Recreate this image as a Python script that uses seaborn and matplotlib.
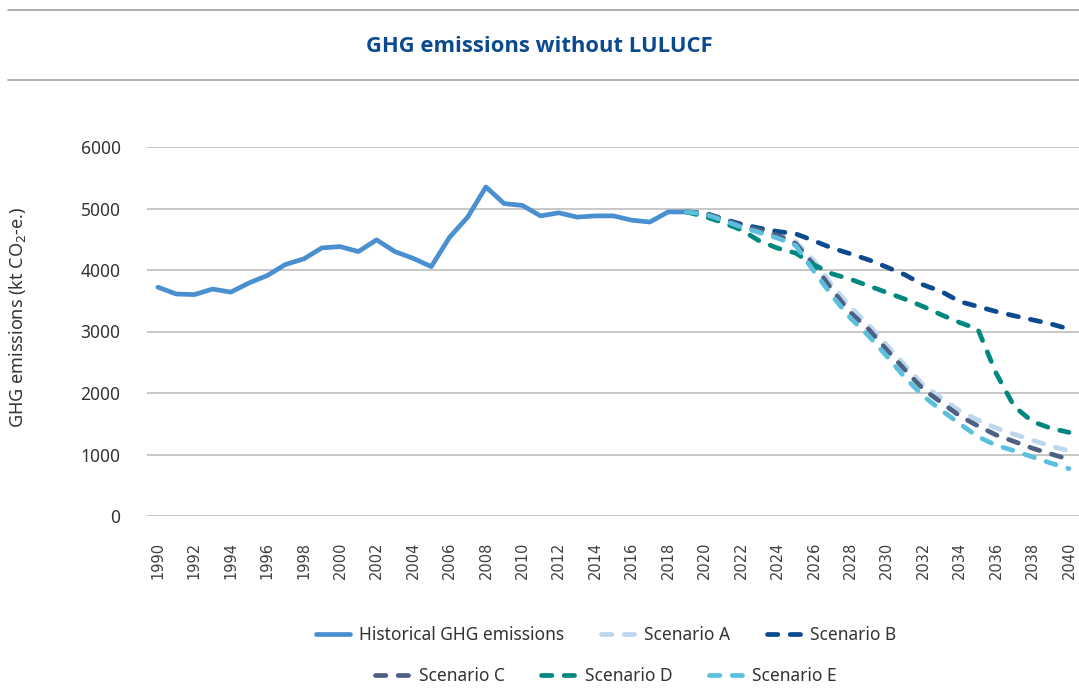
import pandas as pd
import seaborn as sns
import matplotlib.pyplot as plt
from matplotlib.lines import Line2D

# Data (kt CO2-e)
hist_years = list(range(1990, 2020))
hist_values = [3720, 3610, 3600, 3690, 3640, 3790, 3910, 4090, 4180, 4360,
               4380, 4300, 4490, 4300, 4190, 4055, 4530, 4860, 5350, 5080,
               5050, 4880, 4930, 4860, 4880, 4880, 4810, 4780, 4944, 4944]

scen_years = list(range(2019, 2041))
scenario_a = [4944, 4930, 4840, 4740, 4670, 4590, 4460, 4150, 3750, 3400, 3110,
              2780, 2450, 2130, 1920, 1710, 1560, 1430, 1330, 1230, 1140, 1060]
scenario_b = [4944, 4926, 4828, 4747, 4681, 4627, 4589, 4475, 4356, 4264, 4166,
              4047, 3922, 3759, 3650, 3488, 3406, 3325, 3255, 3190, 3124, 3040]
scenario_c = [4944, 4926, 4830, 4720, 4650, 4565, 4430, 4085, 3678, 3309, 3038,
              2702, 2376, 2061, 1845, 1628, 1465, 1318, 1210, 1101, 1010, 920]
scenario_d = [4944, 4870, 4773, 4654, 4475, 4356, 4275, 4085, 3938, 3851, 3743,
              3634, 3526, 3406, 3271, 3146, 3038, 2322, 1779, 1535, 1427, 1360]
scenario_e = [4944, 4910, 4810, 4700, 4610, 4520, 4400, 3980, 3580, 3220, 2930,
              2600, 2250, 1950, 1720, 1500, 1290, 1150, 1060, 960, 860, 770]

series_names = ["Historical GHG emissions", "Scenario A", "Scenario B",
                "Scenario C", "Scenario D", "Scenario E"]
colors = ["#4a8fd0", "#bdd7ee", "#0b4a8f", "#4f6183", "#00877f", "#5bc0de"]
x_ticks = list(range(1990, 2041, 2))

# Long-form table for seaborn
frames = [pd.DataFrame({"year": hist_years, "value": hist_values,
                        "series": series_names[0]})]
for name, vals in zip(series_names[1:],
                      [scenario_a, scenario_b, scenario_c, scenario_d, scenario_e]):
    frames.append(pd.DataFrame({"year": scen_years, "value": vals, "series": name}))
df = pd.concat(frames, ignore_index=True)

sns.set_style("white")
plt.rcParams['font.family'] = ['Noto Sans', 'DejaVu Sans']

LW = 3.4
DASH = (2.2, 2.6)

fig = plt.figure(figsize=(10.79, 6.89), dpi=100)
ax = fig.add_axes([147 / 1079, 173 / 689, 932 / 1079, 369 / 689])

palette = dict(zip(series_names, colors))
dashes = {name: DASH for name in series_names[1:]}
dashes[series_names[0]] = ""
sns.lineplot(data=df, x="year", y="value", hue="series", style="series",
             palette=palette, dashes=dashes, linewidth=LW, ax=ax,
             legend=False, hue_order=series_names, style_order=series_names)
for line in ax.get_lines():
    line.set_dash_capstyle("round")
    line.set_solid_capstyle("round")

ax.set_xlim(1989.4, 2040.55)
ax.set_ylim(0, 6000)
ax.set_yticks(range(0, 6001, 1000))
ax.set_xticks(x_ticks)
ax.set_xticklabels([str(y) for y in x_ticks], rotation=90, fontsize=10.5,
                   color="#404040", family="DejaVu Sans")
ax.tick_params(axis="x", length=0, pad=18.5)
ax.tick_params(axis="y", length=0, pad=19, labelsize=12.5, labelcolor="#333333")
ax.grid(axis="y", color="#bdbdbd", linewidth=1.2)
ax.grid(axis="x", visible=False)
for s in ax.spines.values():
    s.set_visible(False)
ax.set_axisbelow(True)
ax.set_xlabel("")
ax.set_ylabel("GHG emissions (kt CO$_2$-e.)", fontsize=13, color="#333333")
ax.yaxis.set_label_coords((28 - 147) / 932, (516 - 317) / 369)

# Title with rules
fig.text(0.5, 1 - 46 / 689, "GHG emissions without LULUCF", ha="center",
         va="center", fontsize=15.8, fontweight="bold", color="#0b4a8f",
         family="Open Sans")
fig.add_artist(Line2D([8 / 1079, 1.0], [1 - 10 / 689, 1 - 10 / 689],
                      color="#a0a0a0", linewidth=1.2))
fig.add_artist(Line2D([8 / 1079, 1.0], [1 - 80 / 689, 1 - 80 / 689],
                      color="#a0a0a0", linewidth=1.2))

# Legend in two centred rows
def make_handles(names):
    hs = []
    for n in names:
        ls = "-" if n == series_names[0] else (0, DASH)
        hs.append(Line2D([], [], color=palette[n], linewidth=LW, linestyle=ls,
                         dash_capstyle="round", solid_capstyle="round"))
    return hs

legend_x = 606 / 1079
legend_kw = dict(loc="center", ncol=3, frameon=False, fontsize=12.5,
                 handlelength=1.95, handletextpad=0.55, columnspacing=2.1,
                 labelcolor="#333333")
row1 = series_names[:3]
row2 = series_names[3:]
leg1 = fig.legend(make_handles(row1), row1,
                  bbox_to_anchor=(legend_x, 1 - 635 / 689), **legend_kw)
leg2 = fig.legend(make_handles(row2), row2,
                  bbox_to_anchor=(legend_x, 1 - 676 / 689), **legend_kw)

fig.savefig("out.png", dpi=100)
